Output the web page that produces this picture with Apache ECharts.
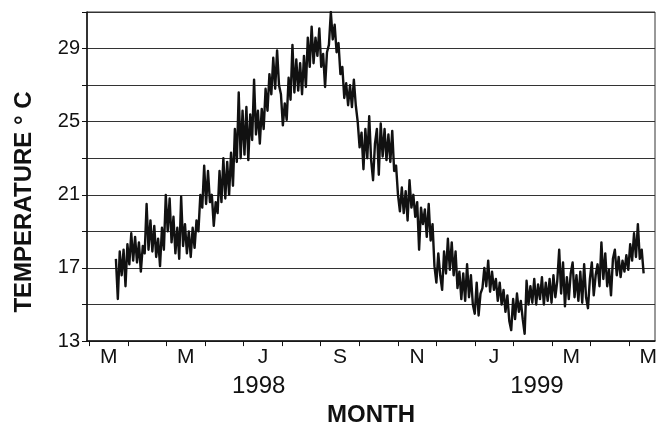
<!DOCTYPE html>
<html>
<head>
<meta charset="utf-8">
<script src="https://cdn.jsdelivr.net/npm/echarts@6/dist/echarts.min.js"></script>
<style>
html,body{margin:0;padding:0;background:#fff;}
#chart{width:662px;height:432px;}
</style>
</head>
<body>
<div id="chart"></div>
<script>
// Sea temperature series, sampled every `step` months starting at `startMonth`
// (month 0 = 1 March 1998)
const startMonth = 0.685;
const step = 0.0498;
const temps = [
  17.5, 15.3, 17.9, 16.6, 18.0, 16.0,
  18.3, 17.2, 18.9, 17.4, 18.7, 17.3, 18.4, 16.8, 18.2, 17.8, 20.5, 18.0, 19.6, 17.9, 19.3, 17.6, 18.6, 17.1, 19.2, 18.0,
  21.0, 19.0, 20.8, 18.4, 19.8, 17.8, 19.2, 17.5, 20.9, 18.2, 19.4, 17.8, 19.0, 17.6, 19.2, 18.1, 19.6, 19.0, 21.0, 20.3,
  22.6, 20.5, 22.3, 20.6, 21.0, 19.3, 20.6, 20.0, 22.3, 20.6, 23.0, 20.8, 22.8, 21.0, 23.3, 21.5, 24.6, 22.8, 26.6, 23.0,
  25.6, 23.2, 25.8, 22.9, 25.4, 24.0, 27.3, 24.3, 25.6, 23.8, 25.7, 24.6, 26.8, 25.6, 27.6, 26.5, 28.5, 26.8, 28.9, 27.0,
  26.5, 24.8, 26.0, 25.1, 27.4, 26.2, 29.2, 26.6, 28.4, 26.7, 28.2, 26.5, 28.6, 26.9, 29.6, 28.0, 30.2, 28.2, 29.6, 28.6,
  30.1, 28.0, 28.7, 26.9, 28.8, 29.2, 31.0, 29.5, 30.3, 28.8, 29.3, 27.6, 28.0, 26.3, 27.1, 25.9, 27.0, 25.8, 27.3, 25.9,
  25.0, 23.6, 24.4, 22.4, 24.6, 23.0, 25.3, 22.9, 21.8, 23.8, 24.6, 22.1, 24.9, 23.1, 24.6, 22.9, 24.3, 22.8, 24.5, 22.3,
  22.6, 21.0, 20.1, 21.4, 20.0, 21.2, 19.6, 21.8, 20.3, 21.0, 19.8, 20.6, 18.0, 20.3, 19.4, 20.2, 18.7, 20.5, 18.5, 19.4,
  17.1, 16.2, 17.8, 16.6, 15.8, 17.9, 16.7, 18.6, 16.9, 18.4, 16.6, 17.9, 15.9, 16.8, 15.3, 16.7, 15.2, 17.2, 15.4, 16.6,
  15.0, 14.5, 16.2, 14.4, 15.6, 15.9, 17.0, 16.0, 17.4, 15.7, 16.8, 15.8, 16.4, 15.2, 16.2, 15.0, 15.8, 14.6, 15.5, 14.1,
  13.6, 15.3, 14.2, 15.6, 14.6, 15.2, 14.2, 13.4, 16.3, 15.0, 16.0, 15.1, 16.4, 15.0, 16.1, 15.3, 16.5, 15.0, 16.2, 15.2,
  16.4, 15.1, 16.6, 15.4, 16.3, 18.0, 15.6, 17.3, 14.9, 16.5, 15.3, 16.7, 17.3, 15.4, 16.6, 15.2, 16.8, 15.1, 17.2, 15.4,
  14.8, 16.4, 17.3, 15.5, 16.6, 17.2, 16.0, 18.4, 16.4, 17.8, 16.0, 16.9, 15.5, 17.5, 18.0, 16.6, 17.6, 16.5, 17.4, 16.8,
  17.7, 16.9, 18.3, 17.4, 18.9, 17.6, 19.4, 17.5, 18.0, 16.7
];

// Axis content
const monthTicks = [0,1,2,3,4,5,6,7,8,9,10,11,12,13,14];
const monthLabels = ['M','M','J','S','N','J','M','M'];
const monthLabelPos = [0.5,2.5,4.5,6.5,8.5,10.5,12.5,14.5];
const yearLabels = ['1998','1999'];
const yearPos = [4.39, 11.61];
const yLabels = [13,17,21,25,29];
const yMin = 13, yMax = 31, yStep = 2;
const xMin = -0.065, xMax = 14.675;

const seriesData = temps.map((v, i) => [startMonth + i * step, v]);

const FONT = 'Liberation Sans, Arial, sans-serif';
const chart = echarts.init(document.getElementById('chart'), null, {renderer: 'canvas'});

chart.setOption({
  animation: false,
  backgroundColor: '#fff',
  grid: {left: 87, right: 7, top: 12, bottom: 85, show: true, borderColor: '#333', borderWidth: 1, backgroundColor: 'transparent'},
  xAxis: [
    {
      type: 'value', min: xMin, max: xMax, position: 'bottom',
      axisLine: {show: true, onZero: false, lineStyle: {color: '#111', width: 1.5}},
      axisTick: {show: true, inside: false, length: 5, customValues: monthTicks, lineStyle: {color: '#111', width: 1}},
      axisLabel: {show: false},
      splitLine: {show: false}
    },
    {
      type: 'value', min: xMin, max: xMax, position: 'bottom',
      axisLine: {show: false}, axisTick: {show: false}, splitLine: {show: false},
      axisLabel: {
        show: true, customValues: monthLabelPos, margin: 6,
        color: '#111', fontFamily: FONT, fontSize: 21,
        formatter: v => {
          const k = monthLabelPos.findIndex(p => Math.abs(p - v) < 1e-6);
          return k >= 0 ? monthLabels[k] : '';
        }
      }
    },
    {
      type: 'value', min: xMin, max: xMax, position: 'bottom',
      axisLine: {show: false}, axisTick: {show: false}, splitLine: {show: false},
      name: 'MONTH', nameLocation: 'middle', nameGap: 53,
      nameTextStyle: {color: '#111', fontFamily: FONT, fontSize: 24, fontWeight: 'bold'},
      axisLabel: {
        show: true, customValues: yearPos, margin: 33,
        color: '#111', fontFamily: FONT, fontSize: 24,
        formatter: v => {
          const k = yearPos.findIndex(p => Math.abs(p - v) < 1e-6);
          return k >= 0 ? yearLabels[k] : '';
        }
      }
    }
  ],
  yAxis: {
    type: 'value', min: yMin, max: yMax, interval: yStep,
    axisLine: {show: true, onZero: false, lineStyle: {color: '#111', width: 1.5}},
    axisTick: {show: true, inside: false, length: 5, lineStyle: {color: '#111', width: 1}},
    axisLabel: {
      show: true, customValues: yLabels, margin: 7,
      color: '#111', fontFamily: FONT, fontSize: 20
    },
    splitLine: {show: true, lineStyle: {color: '#333', width: 1.2}}
  },
  graphic: [
    {
      type: 'text', x: 24, y: 202, rotation: Math.PI / 2,
      style: {text: 'TEMPERATURE ° C', fill: '#111', font: 'bold 24px Liberation Sans, Arial, sans-serif', align: 'center', verticalAlign: 'middle'}
    }
  ],
  series: [
    {
      type: 'line', xAxisIndex: 0, data: seriesData, showSymbol: false, symbol: 'none',
      lineStyle: {color: '#111', width: 2.4, join: 'round'}, sampling: null, z: 3
    }
  ]
});
</script>
</body>
</html>
